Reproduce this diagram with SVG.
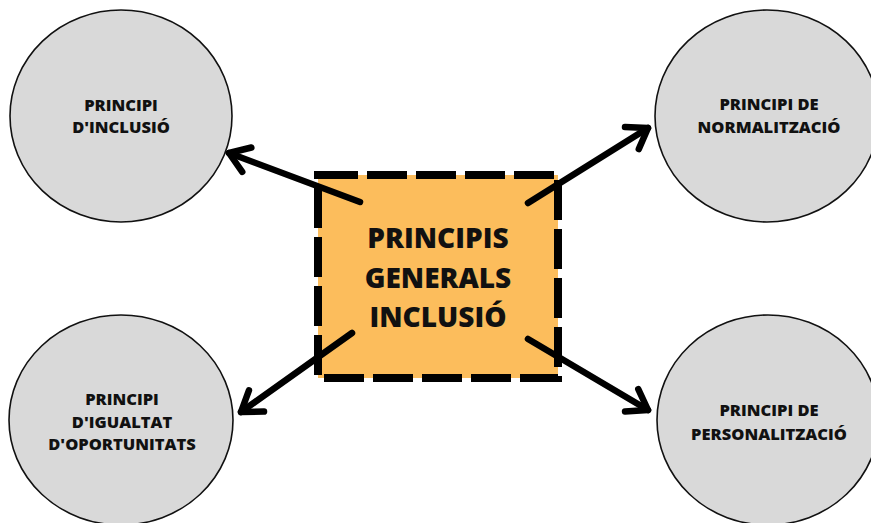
<svg xmlns="http://www.w3.org/2000/svg" width="871" height="523" viewBox="0 0 871 523">
  <style>
    .node-shape { fill: #d9d9d9; stroke: #111; stroke-width: 1.6; }
    .small { font-family: "Open Sans", "Liberation Sans", sans-serif; font-weight: 800; font-size: 16.5px; fill: #111; text-anchor: middle; }
    .big { font-family: "Open Sans", "Liberation Sans", sans-serif; font-weight: 800; font-size: 28px; fill: #111; text-anchor: middle; }
    .conn { stroke: #000; stroke-width: 6.5; stroke-linecap: round; fill: none; }
  </style>
  <defs>
    <marker id="head" markerUnits="userSpaceOnUse" markerWidth="40" markerHeight="40" viewBox="-25 -20 30 40" refX="0" refY="0" orient="auto">
      <path d="M-19,-13 L0,0 L-19,13" fill="none" stroke="#000" stroke-width="6.5" stroke-linecap="round" stroke-linejoin="round"/>
    </marker>
  </defs>
  <rect width="871" height="523" fill="#fff"/>

  <g id="node-inclusio">
    <ellipse class="node-shape" cx="121" cy="116" rx="111" ry="106"/>
    <text class="small" x="121" y="111">PRINCIPI</text>
    <text class="small" x="121" y="133">D'INCLUSIÓ</text>
  </g>
  <g id="node-normalitzacio">
    <ellipse class="node-shape" cx="767" cy="116" rx="112" ry="106"/>
    <text class="small" x="769" y="110">PRINCIPI DE</text>
    <text class="small" x="769" y="133">NORMALITZACIÓ</text>
  </g>
  <g id="node-igualtat">
    <ellipse class="node-shape" cx="121" cy="420" rx="112" ry="105"/>
    <text class="small" x="122" y="405">PRINCIPI</text>
    <text class="small" x="122" y="428">D'IGUALTAT</text>
    <text class="small" x="122" y="450">D'OPORTUNITATS</text>
  </g>
  <g id="node-personalitzacio">
    <ellipse class="node-shape" cx="768" cy="420" rx="111" ry="105"/>
    <text class="small" x="769" y="416">PRINCIPI DE</text>
    <text class="small" x="769" y="440">PERSONALITZACIÓ</text>
  </g>

  <g id="node-center">
    <rect x="318" y="175" width="240" height="203" fill="#fcbd5c" stroke="#000" stroke-width="8" stroke-dasharray="40 9"/>
    <text class="big" x="438" y="248">PRINCIPIS</text>
    <text class="big" x="438" y="288">GENERALS</text>
    <text class="big" x="438" y="327">INCLUSIÓ</text>
  </g>

  <g id="connectors">
    <line class="conn" x1="360" y1="202" x2="229" y2="153" marker-end="url(#head)"/>
    <line class="conn" x1="528" y1="203" x2="648" y2="128" marker-end="url(#head)"/>
    <line class="conn" x1="352" y1="333" x2="241" y2="412" marker-end="url(#head)"/>
    <line class="conn" x1="528" y1="339" x2="648" y2="410" marker-end="url(#head)"/>
  </g>
</svg>
